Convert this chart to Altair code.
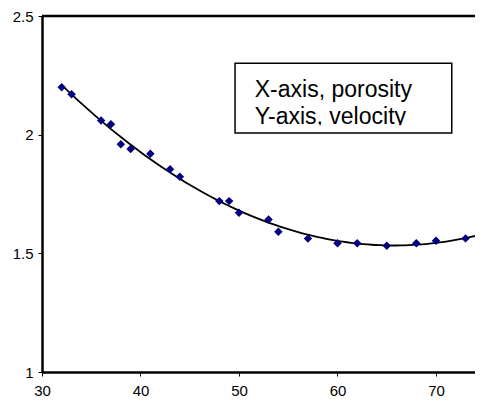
import altair as alt
import pandas as pd

porosity = [32, 33, 36, 37, 38, 39, 41, 43, 44, 48, 49, 50, 53, 54, 57, 60, 62, 65, 68, 70, 73]
velocity = [2.20, 2.17, 2.06, 2.044, 1.96, 1.94, 1.92, 1.854, 1.823, 1.72, 1.72, 1.671, 1.643, 1.591,
            1.562, 1.542, 1.542, 1.532, 1.542, 1.553, 1.563]

x_ticks = [30, 40, 50, 60, 70]
y_ticks = [1, 1.5, 2, 2.5]
x_domain = [30, 73.96]
y_domain = [1, 2.5]

note_lines = ["X-axis, porosity", "Y-axis, velocity"]
note_x = [51.6, 51.6]
note_y = [2.160, 2.045]
box_x = [49.6, 71.6]
box_y = [2.301, 2.007]
mask_y = [2.040, 2.012]

FONT = "Liberation Sans"

df = pd.DataFrame({"x": porosity, "y": velocity})
notes = pd.DataFrame({"x": note_x, "y": note_y, "t": note_lines})
box = pd.DataFrame({"x": [box_x[0]], "x2": [box_x[1]], "y": [box_y[0]], "y2": [box_y[1]]})
mask = pd.DataFrame({"x": [box_x[0] + 0.2], "x2": [box_x[1] - 0.2], "y": [mask_y[0]], "y2": [mask_y[1]]})

xs = alt.Scale(domain=x_domain, nice=False, zero=False)
ys = alt.Scale(domain=y_domain, nice=False, zero=False)

x_enc = alt.X("x:Q", scale=xs, title=None,
              axis=alt.Axis(values=x_ticks, grid=False, domainColor="black", domainWidth=2.5,
                            tickColor="black", tickSize=4, tickWidth=1, labelFont=FONT,
                            labelFontSize=15, labelColor="black", labelPadding=7,
                            labelFlush=False))
y_enc = alt.Y("y:Q", scale=ys, title=None,
              axis=alt.Axis(values=y_ticks, grid=False, domainColor="black", domainWidth=2.5,
                            tickColor="black", tickSize=4, tickWidth=1, labelFont=FONT,
                            labelFontSize=15, labelColor="black", labelPadding=5,
                            format=".1~f", labelFlush=False))

base = alt.Chart(df)

curve = base.transform_regression(
    "x", "y", method="poly", order=2, extent=[32, 73.96]
).mark_line(color="black", strokeWidth=1.8, clip=True).encode(x=x_enc, y=y_enc)

points = base.mark_point(shape="diamond", filled=True, color="#000080", size=72, opacity=1).encode(
    x=alt.X("x:Q", scale=xs), y=alt.Y("y:Q", scale=ys))

top_line = alt.Chart(pd.DataFrame({"y": [2.5]})).mark_rule(color="black", strokeWidth=2.5).encode(
    y=alt.Y("y:Q", scale=ys))

rect = alt.Chart(box).mark_rect(fill="white", stroke="black", strokeWidth=1.5).encode(
    x=alt.X("x:Q", scale=xs), x2="x2", y=alt.Y("y:Q", scale=ys), y2="y2")

text = alt.Chart(notes).mark_text(align="left", baseline="alphabetic", font=FONT, fontSize=23,
                                  color="black").encode(
    x=alt.X("x:Q", scale=xs), y=alt.Y("y:Q", scale=ys), text="t:N")

mask_rect = alt.Chart(mask).mark_rect(fill="white", strokeWidth=0).encode(
    x=alt.X("x:Q", scale=xs), x2="x2", y=alt.Y("y:Q", scale=ys), y2="y2")

chart = alt.layer(curve, points, top_line, rect, text, mask_rect).properties(
    width=433, height=356,
    autosize=alt.AutoSizeParams(type="none"),
    padding={"left": 34, "top": 8, "right": 0, "bottom": 26},
).configure_view(strokeWidth=0)

chart.save("out.html", embed_options={"renderer": "svg", "actions": False})
